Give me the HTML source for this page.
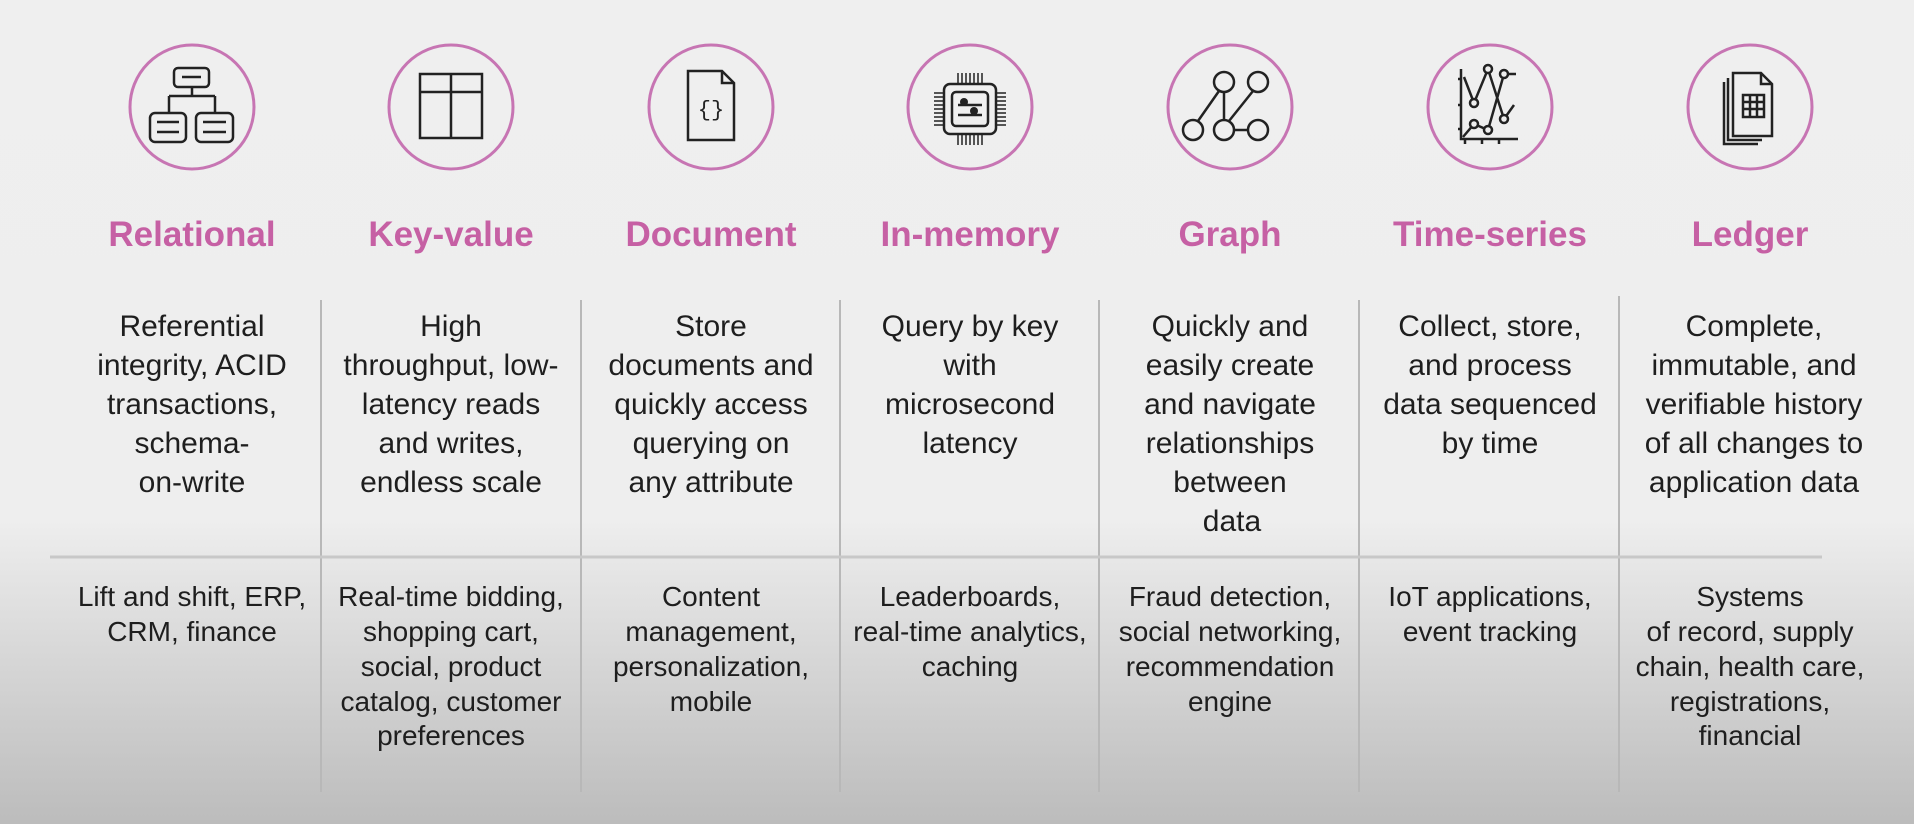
<!DOCTYPE html>
<html><head><meta charset="utf-8"><style>
html,body{margin:0;padding:0;width:1914px;height:824px;overflow:hidden}
body{background:linear-gradient(to bottom,#efefef 0px,#eeeeee 520px,#d8d8d8 650px,#bcbcbc 824px)}
svg{position:absolute;left:0;top:0}
.t{font-family:"Liberation Sans",sans-serif;font-weight:bold;font-size:35px;fill:#c660a4;text-anchor:middle}
.d{font-family:"Liberation Sans",sans-serif;font-size:30px;fill:#1e1e1e;text-anchor:middle}
.u{font-family:"Liberation Sans",sans-serif;font-size:28px;fill:#1e1e1e;text-anchor:middle}
.ic{fill:none;stroke:#222;stroke-width:2.5}
</style></head><body>
<svg width="1914" height="824" viewBox="0 0 1914 824">
<g fill="none" stroke="#c775b3" stroke-width="3">
<ellipse cx="192" cy="107" rx="62" ry="62"/>
<ellipse cx="451" cy="107" rx="62" ry="62"/>
<ellipse cx="711" cy="107" rx="62" ry="62"/>
<ellipse cx="970" cy="107" rx="62" ry="62"/>
<ellipse cx="1230" cy="107" rx="62" ry="62"/>
<ellipse cx="1490" cy="107" rx="62" ry="62"/>
<ellipse cx="1750" cy="107" rx="62" ry="62"/>
</g>
<g class="ic" transform="translate(192,107)">
<rect x="-18" y="-39" width="35" height="19" rx="4"/><line x1="-10" y1="-30" x2="9" y2="-30"/>
<line x1="0" y1="-20" x2="0" y2="-11"/><line x1="-23" y1="-11" x2="23" y2="-11"/>
<line x1="-23" y1="-11" x2="-23" y2="6"/><line x1="23" y1="-11" x2="23" y2="6"/>
<rect x="-42" y="6" width="36" height="29" rx="5"/><rect x="4" y="6" width="37" height="29" rx="5"/>
<line x1="-35" y1="15" x2="-13" y2="15"/><line x1="-35" y1="25" x2="-13" y2="25"/>
<line x1="11" y1="15" x2="34" y2="15"/><line x1="11" y1="25" x2="34" y2="25"/>
</g>
<g class="ic" transform="translate(451,107)">
<rect x="-31" y="-33" width="62" height="64"/><line x1="-31" y1="-15" x2="31" y2="-15"/><line x1="0" y1="-33" x2="0" y2="31"/>
</g>
<g class="ic" transform="translate(711,107)">
<path d="M-23,-36 H11 L23,-24 V33 H-23 Z"/><path d="M11,-36 V-24 H23"/>
</g>
<text x="711" y="116" font-family="Liberation Mono,monospace" font-size="22" text-anchor="middle" fill="#222">{}</text>
<g class="ic" transform="translate(970,107)">
<rect x="-26" y="-23" width="52" height="50" rx="6"/><rect x="-18" y="-15" width="36" height="34" rx="4"/>
<line x1="-12" y1="-2" x2="12" y2="-2"/><line x1="-12" y1="8" x2="12" y2="8"/>
<g stroke-width="1.5">
<path d="M-12,-24v-10M-8,-24v-10M-4,-24v-10M0,-24v-10M4,-24v-10M8,-24v-10M12,-24v-10"/>
<path d="M-12,28v10M-8,28v10M-4,28v10M0,28v10M4,28v10M8,28v10M12,28v10"/>
<path d="M-27,-14h-9M-27,-10h-9M-27,-6h-9M-27,-2h-9M-27,2h-9M-27,6h-9M-27,10h-9M-27,14h-9M-27,18h-9"/>
<path d="M27,-14h9M27,-10h9M27,-6h9M27,-2h9M27,2h9M27,6h9M27,10h9M27,14h9M27,18h9"/>
</g>
</g>
<circle cx="964" cy="102" r="4" fill="#222"/><circle cx="974" cy="111" r="4" fill="#222"/>
<g class="ic" transform="translate(1230,107)" stroke-width="3">
<circle cx="-6" cy="-25" r="10"/><circle cx="28" cy="-25" r="10"/>
<circle cx="-37" cy="23" r="10"/><circle cx="-6" cy="23" r="10"/><circle cx="28" cy="23" r="10"/>
<line x1="-11" y1="-16" x2="-32" y2="14"/><line x1="-6" y1="-15" x2="-6" y2="13"/>
<line x1="23" y1="-16" x2="-1" y2="14"/><line x1="4" y1="23" x2="18" y2="23"/>
</g>
<g class="ic" transform="translate(1490,107)" stroke-width="2">
<path d="M-29,-38 V32 H28"/>
<path d="M-25,32v5M-8,32v5M9,32v5"/>
<path d="M-29,-28h-3M-29,-2h-3M-29,22h-3"/>
<path d="M-26,-30 L-16,-4 L-2,-38 L14,12 L24,-2"/>
<path d="M-27,30 L-16,17 L-2,23 L14,-33 L26,-33"/>
<circle cx="-16" cy="-4" r="4" fill="#eee"/><circle cx="-2" cy="-38" r="4" fill="#eee"/><circle cx="14" cy="12" r="4" fill="#eee"/>
<circle cx="-16" cy="17" r="4" fill="#eee"/><circle cx="-2" cy="23" r="4" fill="#eee"/><circle cx="14" cy="-33" r="4" fill="#eee"/>
</g>
<g class="ic" transform="translate(1750,107)" stroke-width="2.2">
<path d="M-26,-25 V37 H8"/><path d="M-22,-29 V33 H12"/>
<path d="M-17,-34 H11 L22,-23 V29 H-17 Z"/><path d="M11,-34 V-23 H22"/>
<rect x="-7" y="-12" width="21" height="22"/><path d="M0,-12v22M7,-12v22M-7,-5h21M-7,2h21"/>
</g>
<g class="t">
<text x="192" y="246">Relational</text><text x="451" y="246">Key-value</text><text x="711" y="246">Document</text>
<text x="970" y="246">In-memory</text><text x="1230" y="246">Graph</text><text x="1490" y="246">Time-series</text><text x="1750" y="246">Ledger</text>
</g>
<g stroke="#b8b8b8" stroke-width="2">
<line x1="321" y1="300" x2="321" y2="792"/><line x1="581" y1="300" x2="581" y2="792"/><line x1="840" y1="300" x2="840" y2="792"/>
<line x1="1099" y1="300" x2="1099" y2="792"/><line x1="1359" y1="300" x2="1359" y2="792"/><line x1="1619" y1="296" x2="1619" y2="792"/>
<line x1="50" y1="557" x2="1822" y2="557" stroke="#c8c8c8" stroke-width="3"/>
</g>
<g class="d">
<text x="192" y="336">Referential</text><text x="192" y="375">integrity, ACID</text><text x="192" y="414">transactions,</text><text x="192" y="453">schema-</text><text x="192" y="492">on-write</text>
<text x="451" y="336">High</text><text x="451" y="375">throughput, low-</text><text x="451" y="414">latency reads</text><text x="451" y="453">and writes,</text><text x="451" y="492">endless scale</text>
<text x="711" y="336">Store</text><text x="711" y="375">documents and</text><text x="711" y="414">quickly access</text><text x="711" y="453">querying on</text><text x="711" y="492">any attribute</text>
<text x="970" y="336">Query by key</text><text x="970" y="375">with</text><text x="970" y="414">microsecond</text><text x="970" y="453">latency</text>
<text x="1230" y="336">Quickly and</text><text x="1230" y="375">easily create</text><text x="1230" y="414">and navigate</text><text x="1230" y="453">relationships</text><text x="1230" y="492">between</text><text x="1232" y="531">data</text>
<text x="1490" y="336">Collect, store,</text><text x="1490" y="375">and process</text><text x="1490" y="414">data sequenced</text><text x="1490" y="453">by time</text>
<text x="1754" y="336">Complete,</text><text x="1754" y="375">immutable, and</text><text x="1754" y="414">verifiable history</text><text x="1754" y="453">of all changes to</text><text x="1754" y="492">application data</text>
</g>
<g class="u">
<text x="192" y="606">Lift and shift, ERP,</text><text x="192" y="641">CRM, finance</text>
<text x="451" y="606">Real-time bidding,</text><text x="451" y="641">shopping cart,</text><text x="451" y="676">social, product</text><text x="451" y="711">catalog, customer</text><text x="451" y="745">preferences</text>
<text x="711" y="606">Content</text><text x="711" y="641">management,</text><text x="711" y="676">personalization,</text><text x="711" y="711">mobile</text>
<text x="970" y="606">Leaderboards,</text><text x="970" y="641">real-time analytics,</text><text x="970" y="676">caching</text>
<text x="1230" y="606">Fraud detection,</text><text x="1230" y="641">social networking,</text><text x="1230" y="676">recommendation</text><text x="1230" y="711">engine</text>
<text x="1490" y="606">IoT applications,</text><text x="1490" y="641">event tracking</text>
<text x="1750" y="606">Systems</text><text x="1750" y="641">of record, supply</text><text x="1750" y="676">chain, health care,</text><text x="1750" y="711">registrations,</text><text x="1750" y="745">financial</text>
</g>
</svg>
</body></html>
